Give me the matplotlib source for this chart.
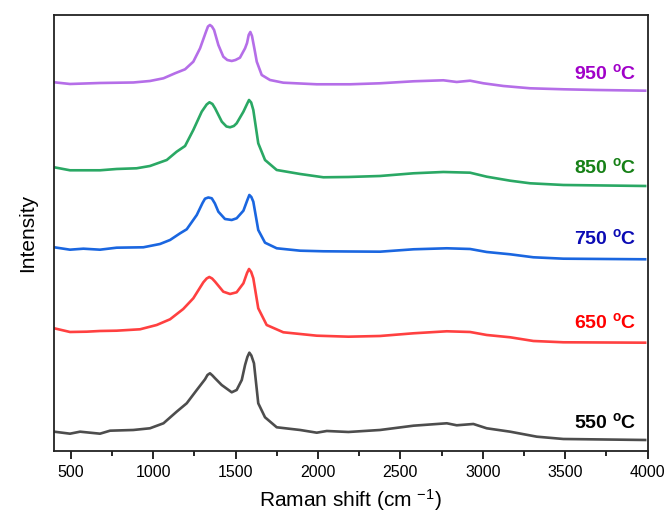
import matplotlib
matplotlib.use("Agg")
import matplotlib.pyplot as plt
from matplotlib.ticker import MultipleLocator

plt.rcParams['font.family'] = ['Liberation Sans', 'DejaVu Sans']
plt.rcParams['mathtext.fontset'] = 'custom'
plt.rcParams['mathtext.rm'] = 'Liberation Sans'
plt.rcParams['mathtext.bf'] = 'Liberation Sans:bold'
plt.rcParams['mathtext.default'] = 'regular'

## spectra (y in arbitrary units, already offset)
x_550 = [400, 496, 557, 678, 739, 880, 981, 1063, 1143, 1204, 1265, 1315, 1330, 1345, 1360, 1376, 1416,
         1477, 1507, 1538, 1558, 1572, 1584, 1596, 1612, 1638, 1679, 1750, 1892, 1993, 2054, 2185, 2377,
         2580, 2782, 2842, 2943, 3024, 3166, 3328, 3489, 3985]
y_550 = [19.3, 17.3, 19.3, 17.3, 20.3, 21, 22.7, 27.7, 39.3, 47.7, 61, 71.7, 76, 77.7, 75.5, 72.7, 66,
         58.7, 61, 71, 86, 94, 98.3, 95.5, 87.7, 47.7, 33.7, 23.7, 21, 18.3, 20, 19, 21,
         25.3, 27.7, 25.7, 27, 22.7, 19.3, 14.3, 12, 11]

x_650 = [400, 496, 597, 678, 779, 921, 1022, 1103, 1183, 1244, 1305, 1325, 1341, 1358, 1376, 1426, 1467,
         1507, 1548, 1570, 1582, 1595, 1608, 1638, 1689, 1790, 1993, 2185, 2377, 2580, 2782, 2923, 3024,
         3166, 3307, 3489, 3985]
y_650 = [122.7, 119, 119.3, 120, 120.3, 121.7, 126, 131.7, 142, 152.7, 168.7, 172.5, 174, 172.5, 169.3, 159.3, 157,
         158.7, 167.7, 178, 182, 179, 172.7, 142.7, 126, 118.7, 115.3, 114.3, 115, 117.7, 119.7, 119, 116,
         113.7, 110, 108.7, 108.3]

x_750 = [400, 496, 577, 678, 779, 941, 1042, 1103, 1164, 1204, 1265, 1300, 1315, 1335, 1356, 1375, 1396, 1436,
         1477, 1507, 1548, 1572, 1584, 1596, 1608, 1638, 1679, 1750, 1892, 2033, 2185, 2377, 2580, 2782,
         2923, 3024, 3166, 3307, 3489, 3985]
y_750 = [203.7, 201.3, 202.3, 201.3, 203.3, 203.7, 207, 211, 217.7, 221.7, 236, 248, 252.3, 253.5, 252.7, 247.5, 239.3, 232,
         231, 232.7, 240.3, 251, 256, 254, 249.3, 221, 208.3, 202.7, 200.3, 199.7, 199.5, 199.3, 201.7, 202.7,
         202, 199, 196.7, 193.7, 192.3, 191.7]

x_850 = [400, 496, 678, 779, 900, 981, 1083, 1143, 1194, 1244, 1295, 1325, 1342, 1360, 1376, 1417, 1445, 1467,
         1490, 1507, 1548, 1570, 1582, 1595, 1608, 1638, 1679, 1750, 1892, 2033, 2185, 2377, 2580, 2761, 2923,
         3024, 3166, 3287, 3489, 3985]
y_850 = [283.7, 280.7, 280.7, 282, 282.7, 285, 291, 299.3, 305, 321, 339.3, 346.5, 348.7, 347, 342.7, 329.3, 324.5, 323.7,
         325, 327.7, 339.3, 347, 351, 348.5, 341, 307.7, 291, 281, 277, 273.7, 274, 275, 277.7, 279, 278.3,
         274.3, 270.3, 267.7, 266, 265]

x_950 = [400, 496, 678, 880, 981, 1063, 1133, 1194, 1244, 1285, 1321, 1333, 1345, 1357, 1370, 1396, 1426,
         1450, 1477, 1500, 1527, 1558, 1570, 1580, 1590, 1600, 1615, 1629, 1659, 1709, 1790, 1993, 2195, 2377,
         2580, 2761, 2842, 2923, 3004, 3125, 3287, 3489, 3692, 3985]
y_950 = [368.7, 367, 368, 368.5, 370, 372.7, 377.7, 381.7, 389.3, 402.7, 419.3, 424.5, 426, 424.5, 421, 406, 394.3,
         391, 390, 391, 393.3, 402.7, 408, 416, 419, 415, 402, 389.3, 376, 371, 368.3, 366.7, 366.7, 367.7,
         369.7, 370.7, 369, 370.3, 367.7, 365, 362.7, 361.7, 361, 360.3]

temps = ['550', '650', '750', '850', '950']
line_colors = ['#4d4d4d', '#ff4040', '#1a66e0', '#2aa864', '#b56ee8']
text_colors = ['#000000', '#ff0000', '#0a0ab4', '#168016', '#a000c8']
label_y = [29, 129, 213, 284, 378]

fig = plt.figure(figsize=(6.64, 5.15), dpi=100)
ax = fig.add_axes([0.0816, 0.1243, 0.8937, 0.8466])

series = [(x_550, y_550), (x_650, y_650), (x_750, y_750), (x_850, y_850), (x_950, y_950)]
for (xs, ys), c in zip(series, line_colors):
    ax.plot(xs, ys, color=c, linewidth=1.9, solid_joinstyle='round')

for t, c, ly in zip(temps, text_colors, label_y):
    ax.text(3930, ly, t + r' $^{\mathbf{o}}$C', color=c, fontsize=14, fontweight='bold',
            ha='right', va='center')

ax.set_xlim(400, 4000)
ax.set_ylim(0, 436)
ax.xaxis.set_major_locator(MultipleLocator(500))
ax.xaxis.set_minor_locator(MultipleLocator(250))
ax.set_yticks([])
ax.tick_params(axis='x', which='major', direction='out', length=6, width=1.2, labelsize=11.5, pad=4)
ax.tick_params(axis='x', which='minor', direction='out', length=3.5, width=1.2)
for s in ax.spines.values():
    s.set_linewidth(1.3)
    s.set_color('#222222')

ax.set_xlabel('Raman shift (cm $^{-1}$)', fontsize=15, labelpad=5)
ax.set_ylabel('Intensity', fontsize=15, labelpad=12)

fig.savefig('out.png', dpi=100)
